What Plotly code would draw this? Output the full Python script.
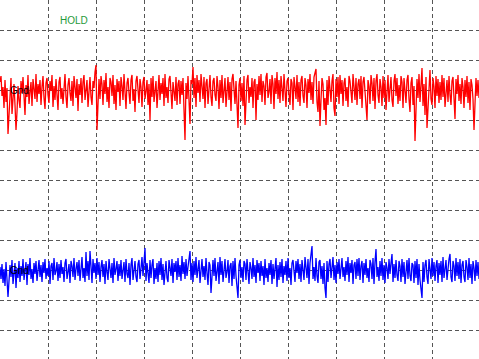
import plotly.graph_objects as go

# Scope settings
MV_PER_COUNT = 10          # one sample count = 10 mV
MV_PER_DIV = 300           # vertical scale, mV/div
SAMPLE_DIV = 1 / 48        # time between samples, in divisions
CH1_GND_DIV = 3            # ground offset of channel 1 (divisions)
CH2_GND_DIV = -3           # ground offset of channel 2 (divisions)

# Channel 1 (red) samples, in counts
ch1_counts = [
    8, 14, -6, 3, -18, 10, -12, 2, -44, -20, -8, 12, -24, -5, 6, -15, -40, -22, 4, -10,
    -18, 9, -3, 13, -11, -25, 5, -7, 15, -14, -2, 8, -16, 11, 1, -9, 16, -12, 6, -4,
    10, -15, 3, 14, -8, -19, 7, 12, -5, -13, 9, -1, 15, -17, 4, -10, 11, -6, -20, 8,
    13, -9, 2, -14, 10, 16, -7, -18, 5, 12, -3, -11, 9, -16, 14, 1, -8, 11, -21, 6,
    -5, 12, -13, 8, 15, -10, -2, 10, -17, 4, 13, -7, -15, 9, 2, 18, 25, -40, -12, 11,
    -9, 14, 6, -15, 10, -4, 17, -12, 3, -18, 12, 8, -6, 15, -14, 5, -20, 11, -2, 9,
    -16, 13, 4, -10, 16, -8, -19, 7, 12, -3, -14, 10, 15, -11, 1, -22, 9, 14, -6, -13,
    11, 3, -17, 8, 13, -9, -1, 10, -15, 6, -30, 12, -7, 14, -12, 2, 9, -18, 5, 15,
    -10, 7, -4, 12, -16, 16, -8, 3, -13, 11, 14, -6, -19, 8, 1, -11, 13, -15, 6, 10,
    -14, 9, -5, 12, -20, -50, 7, -9, 14, -12, -34, 10, 6, 23, -8, 12, -17, 15, -3, 10,
    -12, 16, 2, -9, 13, -18, 7, 11, -14, 4, 15, -7, -16, 9, 12, -5, -11, 14, 3, -19,
    10, -8, 15, -13, 6, 12, -17, 1, 13, -10, 8, -21, 11, 16, -6, -14, 9, -20, -38, 5,
    12, -11, 7, -16, 14, -35, -9, 10, 15, -13, 3, -7, 12, -18, 8, 11, -30, 6, -10, 14,
    -5, 16, -12, 9, 4, -15, 13, 17, -8, -2, 11, -14, 15, 6, -19, 12, -4, 18, -9, 10,
    -13, 14, 2, -11, 16, -7, -17, 9, 12, -4, -15, 11, 7, -20, 13, 3, -9, 15, -12, 8,
    -16, 10, 14, -6, -13, 12, 5, -18, 11, -3, 16, -10, 8, -14, 13, 17, 21, -12, -22, 9,
    -36, -10, 12, 6, -20, -8, -35, 10, -15, 14, -5, -12, 9, 16, -18, -26, 11, -7, 13, -14,
    15, -4, 10, -16, 7, 12, -11, 3, -17, 14, 9, -8, -13, 16, 2, -10, 12, -15, 6, 11,
    -9, 14, -18, 8, 13, -6, -12, -30, 10, 4, -14, 15, 7, -11, 12, -19, 9, 16, -5, -13,
    11, 3, -16, 14, -8, 10, -20, 6, 15, -12, 1, 13, -10, -17, 9, 16, -6, 12, -14, 5,
    -11, 14, 8, -18, 12, -5, -13, 10, 15, -9, -22, 7, 13, -15, 4, -51, -20, 11, -8, 16,
    -12, 9, 22, -16, 6, -25, 13, -38, -14, 10, 20, -9, -15, 12, 3, -18, 14, -6, 11, -13,
    8, -10, 15, -7, 12, -17, 4, 10, -12, 14, -5, -15, 9, 13, -8, -29, 11, -4, 15, -11,
    6, -14, 12, 3, -18, 10, -7, 14, -13, 8, -20, 11, 5, -9, -40, -16, 12, -6, 10, -8,
]

# Channel 2 (blue) samples, in counts
ch2_counts = [
    3, -9, 6, -13, 1, -16, 8, -20, -27, -11, 5, -7, 10, -14, -3, 7, -18, 2, -8, 9,
    -12, 4, -6, 11, -10, -2, 8, -15, 6, -5, 12, -9, 1, -13, 7, -4, 9, -11, 3, 10,
    -7, 5, -12, 8, -3, 11, -9, 2, -6, 9, -14, 4, 7, -10, 12, -5, -1, 8, -11, 6,
    -8, 10, -4, 3, -12, 7, 11, -9, -2, 6, -13, 9, 4, -7, 12, -10, 1, 8, -6, 10,
    -11, 5, 13, -8, 2, -12, 18, -6, 9, -10, 19, 4, -13, 11, -3, 7, -9, 12, -5, 8,
    -12, 3, 10, -7, 6, -14, 9, -2, -10, 11, 4, -8, 7, -13, 12, -5, 1, 9, -11, 6,
    -6, 10, -9, 3, 8, -12, 11, -4, -8, 7, -15, 5, 12, -10, 2, 9, -7, -12, 6, 10,
    -9, 4, 13, -6, 8, 22, -11, 7, -3, -13, 10, -8, 5, 11, -14, 2, -9, 7, -12, 9,
    -5, 12, -10, 6, -15, 3, 9, -8, -12, 10, 4, -6, 11, -13, 7, -2, 9, -10, 12, -7,
    5, -11, 14, -4, 8, -9, 11, -6, 3, 12, 19, -10, 7, -12, 9, -5, 13, -8, 2, 10,
    -13, 6, 11, -7, 4, -10, 12, -3, -15, 8, 5, -23, -9, 10, -6, 12, -11, 3, 8, -14,
    13, -5, 9, -12, 6, 11, -8, -2, 10, -13, 4, 7, -16, 9, -9, 12, -6, -20, -28, 5,
    10, -8, 3, -12, 9, 6, -10, 11, -4, -14, 8, 2, -9, 12, -7, 5, -13, 10, -3, 7,
    -11, 9, -6, 4, -15, 11, -8, 2, -12, 7, -5, 10, -14, 6, -9, 3, 12, -17, 5, -10,
    8, -7, 11, -13, 4, -5, 9, -11, 12, -8, 2, -15, 7, 10, -6, -12, 9, -3, 11, -9,
    6, -12, 10, -4, -10, 13, 5, -8, 11, -14, 7, 15, 24, -9, 3, -11, 12, -6, -13, 8,
    10, -9, 4, -14, 7, -18, -28, 9, -12, 6, 11, -8, 2, 13, -10, 5, -13, 8, -4, 11,
    -9, 6, 12, -7, 3, -11, 9, -5, 13, -12, 7, -3, 10, -14, 5, 8, -9, 11, -6, 12,
    -10, 4, 9, -13, 7, -5, 11, -8, 2, -12, 10, 6, -9, 12, -14, 8, 21, -7, 3, -11,
    9, -6, 12, -10, 5, -13, 8, 2, -9, 11, -4, 7, 16, -12, 6, -8, 10, -5, -11, 9,
    4, -12, 11, -7, 8, -14, 3, 10, -9, 12, -6, -11, 7, 5, -13, 9, -8, 11, -15, 6,
    -10, -18, -28, 8, -12, 5, 10, -7, -14, 11, 3, -9, 12, -6, 8, -11, 4, 10, -13, 7,
    -5, 9, -12, 13, -8, 2, 10, -10, 6, 11, 16, -7, -12, 9, 4, -11, 12, -6, 8, -9,
    11, -13, 5, 9, -7, -12, 10, 3, -10, 12, -8, 6, -14, 9, 2, -11, 10, -6, 8, -9,
]

status_text = "HOLD"
gnd_label = "Gnd"

t1 = [i * SAMPLE_DIV for i in range(len(ch1_counts))]
t2 = [i * SAMPLE_DIV for i in range(len(ch2_counts))]
ch1_div = [CH1_GND_DIV + c * MV_PER_COUNT / MV_PER_DIV for c in ch1_counts]
ch2_div = [CH2_GND_DIV + c * MV_PER_COUNT / MV_PER_DIV for c in ch2_counts]

W, H = 479, 359
x_range = [0, W / 48]
y_range = [6 - H / 30, 6]

fig = go.Figure()
fig.add_trace(go.Scatter(x=t1, y=ch1_div, mode="lines",
                         line=dict(color="#ff0000", width=1.3), hoverinfo="skip"))
fig.add_trace(go.Scatter(x=t2, y=ch2_div, mode="lines",
                         line=dict(color="#0000ff", width=1.3), hoverinfo="skip"))

font = dict(family="Liberation Sans, Arial, sans-serif", size=10)
fig.add_annotation(x=0.17, y=CH1_GND_DIV, text=gnd_label, showarrow=False,
                   xanchor="left", yanchor="middle", font=dict(color="#000000", **font))
fig.add_annotation(x=0.17, y=CH2_GND_DIV, text=gnd_label, showarrow=False,
                   xanchor="left", yanchor="middle", font=dict(color="#000000", **font))
fig.add_annotation(x=1.2, y=5.33, text=status_text, showarrow=False,
                   xanchor="left", yanchor="middle", font=dict(color="#1f9a3a", **font))

grid = dict(showgrid=True, gridcolor="#555555", gridwidth=1, griddash="4px,3px",
            zeroline=False, showticklabels=False, ticks="", showline=False,
            dtick=1, tick0=0, fixedrange=True)
fig.update_xaxes(range=x_range, **grid)
fig.update_yaxes(range=y_range, **grid)
fig.update_layout(width=W, height=H, margin=dict(l=0, r=0, t=0, b=0),
                  paper_bgcolor="#ffffff", plot_bgcolor="#ffffff",
                  showlegend=False)

fig.write_html("out.html", config={"displayModeBar": False},
               post_script="document.body.style.margin='0';document.body.style.overflow='hidden';")
